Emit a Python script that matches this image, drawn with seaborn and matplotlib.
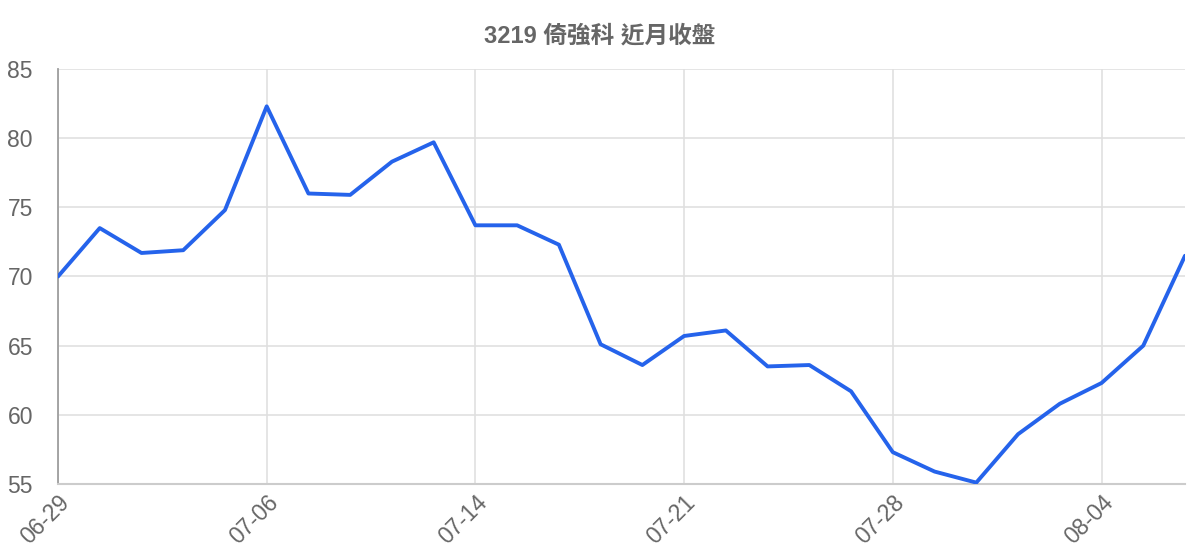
import matplotlib
matplotlib.use("Agg")
import matplotlib.pyplot as plt
import seaborn as sns
import pandas as pd

# closing prices, last month
dates = ["06-29", "06-30", "07-03", "07-04", "07-05", "07-06", "07-07", "07-10",
         "07-11", "07-13", "07-14", "07-17", "07-18", "07-19", "07-20", "07-21",
         "07-24", "07-25", "07-26", "07-27", "07-28", "07-31", "08-01", "08-02",
         "08-03", "08-04", "08-07", "08-08"]
closes = [70.0, 73.5, 71.7, 71.9, 74.8, 82.3, 76.0, 75.9,
          78.3, 79.7, 73.7, 73.7, 72.3, 65.1, 63.6, 65.7,
          66.1, 63.5, 63.6, 61.7, 57.3, 55.9, 55.1, 58.6,
          60.8, 62.3, 65.0, 71.5]
y_ticks = [55, 60, 65, 70, 75, 80, 85]
title = "3219 倚強科 近月收盤"

df = pd.DataFrame({"idx": range(len(dates)), "date": dates, "close": closes})

sns.set_style("white")
plt.rcParams["font.family"] = ["Liberation Sans", "Noto Sans CJK TC", "DejaVu Sans"]

text_col = "#666666"
grid_col = "#e0e0e0"

fig = plt.figure(figsize=(12, 5.6), dpi=100)
ax = fig.add_axes([58 / 1200, 1 - 484 / 560, 1127 / 1200, 415 / 560])

sns.lineplot(data=df, x="idx", y="close", ax=ax, color="#2563eb", linewidth=2.8,
             zorder=5)

ax.set_xlim(0, len(dates) - 1)
ax.set_ylim(55, 85)

# every 5th date gets a label and a vertical grid line
xt = list(range(0, len(dates), 5))
ax.set_xticks(xt)
ax.set_xticklabels([dates[i] for i in xt], rotation=45, ha="right",
                   rotation_mode="anchor", fontsize=16.5, color=text_col)
ax.set_yticks(y_ticks)
ax.set_yticklabels([str(v) for v in y_ticks], fontsize=16.5, color=text_col)

ax.tick_params(axis="y", length=16, width=1.2, color=grid_col, pad=2)
ax.tick_params(axis="x", length=0, pad=5)

ax.grid(True, color=grid_col, linewidth=1.2)
ax.set_axisbelow(True)

for side in ["top", "right"]:
    ax.spines[side].set_visible(False)
ax.spines["left"].set_color("#9e9e9e")
ax.spines["left"].set_linewidth(1.3)
ax.spines["bottom"].set_color("#cccccc")
ax.spines["bottom"].set_linewidth(1.5)

ax.set_xlabel("")
ax.set_ylabel("")

fig.text(0.5, 1 - 36 / 560, title, ha="center", va="center", fontsize=17,
         fontweight="bold", color=text_col)

fig.savefig("out.png", dpi=100)
